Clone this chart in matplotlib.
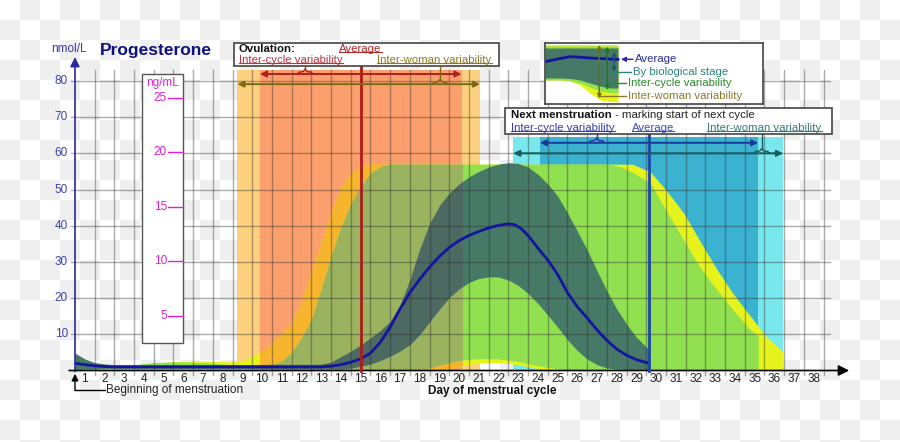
import numpy as np
import matplotlib
matplotlib.use("Agg")
import matplotlib.pyplot as plt
from matplotlib.colors import ListedColormap
from matplotlib.patches import Rectangle

plt.rcParams['font.family'] = ['Liberation Sans', 'DejaVu Sans']

# ---- data: progesterone (nmol/L) over the cycle, day n spans n-1..n ----
days = list(range(1, 39))
nmol_ticks = [10, 20, 30, 40, 50, 60, 70, 80]
ngml_ticks = [5, 10, 15, 20, 25]
ngml_to_nmol = 3.015

ovu_avg = 14.5
ovu_cycle = (9.39, 19.62)
ovu_woman = (8.24, 20.56)
men_avg = 29.14
men_cycle = (23.6, 34.68)
men_woman = (22.25, 35.94)

# average level
t_mean = [0, 0.5, 1, 1.5, 2, 12.5, 13, 13.5, 14, 14.5, 15, 15.5, 16, 16.5, 17, 17.5, 18,
          18.5, 19, 19.5, 20, 20.5, 21, 21.5, 22, 22.3, 22.6, 23, 23.5, 24, 24.5, 25, 25.5,
          26, 26.5, 27, 27.5, 28, 28.5, 29.14]
mean = [2.0, 1.6, 1.3, 1.1, 1.0, 1.0, 1.2, 1.6, 2.3, 3.2, 4.8, 7.8, 12.0, 17.0, 21.5, 25.2,
        28.6, 31.5, 34.0, 35.9, 37.3, 38.4, 39.4, 40.1, 40.5, 40.3, 39.4, 37.3, 33.8, 30.5,
        26.5, 21.5, 17.6, 14.5, 11.2, 8.3, 5.9, 4.2, 3.0, 2.0]

# variability by biological stage
t_bio = [0, 0.5, 1, 1.5, 2, 12.5, 13, 13.5, 14, 14.5, 15, 15.5, 16, 16.5, 17, 17.5, 18,
         18.5, 19, 19.5, 20, 20.5, 21, 21.5, 22, 22.5, 23, 23.5, 24, 24.5, 25, 25.5, 26,
         26.5, 27, 27.5, 28, 28.5, 29.14]
hi_bio = [4.8, 3.2, 2.2, 1.8, 1.6, 1.7, 2.3, 3.8, 5.3, 7.0, 9.0, 11.0, 13.5, 18.0, 25.0,
          33.5, 40.5, 45.5, 49.0, 51.5, 53.5, 55.0, 56.2, 57.0, 57.4, 57.2, 56.2, 54.2, 51.5,
          48.2, 43.5, 38.5, 33.3, 27.5, 22.0, 17.0, 12.8, 9.2, 5.7]
lo_bio = [0.3, 0.4, 0.5, 0.6, 0.6, 0.5, 0.5, 0.5, 0.7, 1.2, 1.8, 2.8, 4.0, 5.4, 7.2, 10.0,
          13.5, 17.0, 20.2, 22.6, 24.3, 25.4, 25.9, 25.8, 25.0, 23.5, 21.3, 18.5, 15.3, 12.0,
          8.5, 5.5, 3.2, 1.6, 0.7, 0.4, 0.3, 0.3, 0.3]

# inter-cycle variability
t_cyc = [0, 1, 2, 3, 4, 5, 6, 7, 8, 9, 10, 10.5, 11, 11.5, 12, 12.5, 13, 13.5, 14, 14.5,
         15, 15.5, 16, 17.5, 18.5, 19.5, 20.5, 21.5, 22.5, 23.5, 24.5, 25.5, 27.0, 27.7,
         28.4, 29.2, 30.0, 30.9, 31.7, 32.6, 33.4, 34.3, 34.68]
hi_cyc = [1.5, 1.5, 1.5, 1.6, 2.2, 2.4, 2.3, 2.0, 1.6, 1.4, 1.6, 2.6, 5.0, 9.0, 14.0, 22.5,
          31.5, 39.5, 46.0, 51.0, 54.5, 56.3, 57, 57, 57, 57, 57, 57, 57, 57, 57, 57, 57,
          56.3, 54.5, 51.8, 44.3, 36.0, 28.7, 22.2, 16.7, 11.2, 9.6]
lo_cyc = [0] * 23 + [0, 1.5, 2.8, 3.3, 3.2, 2.5, 1.3, 0.4, 0] + [0] * 11

# inter-woman variability
t_wom = [0, 3, 4, 5, 6, 7, 8, 8.5, 9, 9.5, 10, 10.5, 11, 11.5, 12, 12.5, 13, 13.5, 14, 14.5,
         15, 18.5, 19.5, 20.5, 21.5, 22.5, 23.5, 24.0, 28.3, 29.2, 30.0, 30.9, 31.7, 32.6,
         33.4, 34.3, 35.1, 35.94]
hi_wom = [1.0, 1.4, 2.0, 2.4, 2.6, 2.6, 2.4, 2.8, 3.8, 5.5, 7.5, 10.0, 13.0, 19.0, 27.0,
          35.5, 43.5, 50.5, 54.5, 56.5, 57, 57, 57, 57, 57, 57, 57, 57, 57, 54.9, 49.9,
          43.5, 36.0, 27.8, 21.3, 14.9, 9.3, 5.2]
lo_wom = [0] * 21 + [0, 1.2, 2.0, 2.2, 1.6, 0.5, 0] + [0] * 10

# mini chart in the key box (box pixel units)
key_x = [545, 560, 570, 580, 590, 600, 610, 618]
key_avg = [61.7, 58.5, 56.7, 57.2, 58.0, 58.5, 59.0, 59.3]
key_bio_lo = [78, 78, 78.5, 80, 83, 86, 88, 88]
key_cyc_lo = [80, 80, 80.5, 83, 87, 91, 92.5, 93]
key_wom_lo = [80, 80, 81, 85, 93, 100, 101.5, 102]

# colours
C_LORANGE = '#FDD07E'
C_ORANGE = '#FBA06C'
C_LCYAN = '#78E8EE'
C_CYAN = '#3AB2D0'
C_YELLOW = '#E6F31C'
C_GREEN = '#90E050'
C_DARK = '#467A66'
C_YELLOW_O = '#F6B52C'
C_GREEN_O = '#9BB35F'
C_DARK_O = '#4C6A62'
C_MEAN = '#1414A0'

fig = plt.figure(figsize=(9, 4.42), dpi=100)

# transparent-background checkerboard
bg = fig.add_axes([0, 0, 1, 1], zorder=0)
cells = np.indices((23, 45)).sum(axis=0) % 2
bg.imshow(cells, cmap=ListedColormap(['#ffffff', '#efefef']), extent=(0, 900, 460, 0),
          interpolation='nearest', aspect='auto')
bg.set_xlim(0, 900)
bg.set_ylim(442, 0)
bg.axis('off')

ax = fig.add_axes([0, 0, 1, 1], zorder=1)
ax.set_xlim(-75 / 19.7, 825 / 19.7)
ax.set_ylim(-71.5 / 3.62, 370.5 / 3.62)
ax.axis('off')
ax.patch.set_visible(False)

# bands for ovulation and next menstruation
ax.fill_between(ovu_woman, 0, 83, color=C_LORANGE, lw=0, zorder=1)
ax.fill_between(ovu_cycle, 0, 83, color=C_ORANGE, lw=0, zorder=1.1)
ax.fill_between(men_woman, 0, 64.6, color=C_LCYAN, lw=0, zorder=1)
ax.fill_between(men_cycle, 0, 64.6, color=C_CYAN, lw=0, zorder=1.1)


def band(t, lo, hi, c, c_over, z):
    ax.fill_between(t, lo, hi, color=c, lw=0, zorder=z)
    p = ax.fill_between(t, lo, hi, color=c_over, lw=0, zorder=z + 0.1)
    p.set_clip_path(Rectangle((ovu_cycle[0], -2), ovu_cycle[1] - ovu_cycle[0], 90,
                              transform=ax.transData))


band(t_wom, lo_wom, hi_wom, C_YELLOW, C_YELLOW_O, 2)
band(t_cyc, lo_cyc, hi_cyc, C_GREEN, C_GREEN_O, 3)
band(t_bio, lo_bio, hi_bio, C_DARK, C_DARK_O, 4)

# grid
for d in days:
    ax.plot([d, d], [-1.2, 83], color='#303030', alpha=0.4, lw=1.0, zorder=5)
for v in nmol_ticks:
    ax.plot([-0.2, 38.3], [v, v], color='#303030', alpha=0.4, lw=1.0, zorder=5)

ax.plot(t_mean, mean, color=C_MEAN, lw=2, zorder=6, solid_capstyle='butt',
        solid_joinstyle='round')

# axes
ax.annotate('', xy=(0, 86.6), xytext=(0, -0.3),
            arrowprops=dict(arrowstyle='-|>', color='#2828A0', lw=1.2, mutation_scale=14,
                            shrinkA=0, shrinkB=0), zorder=7)
ax.annotate('', xy=(39.3, 0), xytext=(-0.3, 0),
            arrowprops=dict(arrowstyle='-|>', color='black', lw=1.2, mutation_scale=16,
                            shrinkA=0, shrinkB=0), zorder=7)
for v in nmol_ticks:
    ax.text(-0.36, v, str(v), ha='right', va='center', fontsize=8.5, color='#4040B0')
ax.text(-0.33, 88.8, 'nmol/L', ha='center', va='center', fontsize=8.5, color='#3A3AA8')
ax.text(1.27, 88.3, 'Progesterone', ha='left', va='center', fontsize=12.5,
        fontweight='bold', color='#101080')
for d in days:
    ax.text(d - 0.5, -2.35, str(d), ha='center', va='center', fontsize=8.5, color='#202020')
ax.text(21.17, -5.6, 'Day of menstrual cycle', ha='center', va='center', fontsize=8.5,
        fontweight='bold', color='#111111')
ax.annotate('', xy=(0, -0.9), xytext=(0, -5.5),
            arrowprops=dict(arrowstyle='-|>', color='black', lw=1, mutation_scale=10,
                            shrinkA=0, shrinkB=0))
ax.plot([0, 1.5], [-5.5, -5.5], color='black', lw=1)
ax.text(1.57, -5.5, 'Beginning of menstruation', ha='left', va='center', fontsize=8.5,
        color='#222222')

# secondary ng/mL scale
ax.add_patch(Rectangle((3.39, 7.5), 2.11, 74.4, facecolor='white', edgecolor='#555555',
                       lw=1, zorder=8))
ax.text(4.45, 79.4, 'ng/mL', ha='center', va='center', fontsize=8.5, color='#E020D0', zorder=9)
for v in ngml_ticks:
    y = v * ngml_to_nmol
    ax.plot([4.72, 5.5], [y, y], color='#E020D0', lw=1, zorder=9)
    ax.text(4.66, y, str(v), ha='right', va='center', fontsize=8.5, color='#E020D0', zorder=9)

# markers
ax.plot([ovu_avg, ovu_avg], [0, 87.7], color='#B01A1A', lw=2, zorder=7)
ax.plot([men_avg, men_avg], [0, 65.2], color='#1848A8', lw=2, zorder=7)

fig.canvas.draw()
renderer = fig.canvas.get_renderer()
inv = ax.transData.inverted()


def label(x, y, s, color, ha='left', weight='normal', under=True):
    t = ax.text(x, y, s, ha=ha, va='center', fontsize=8.2, color=color,
                fontweight=weight, zorder=9)
    bb = t.get_window_extent(renderer)
    (x0, y0), (x1, _) = inv.transform([(bb.x0, bb.y0 + 1.5), (bb.x1, bb.y0)])
    if under:
        ax.plot([x0, x1], [y0, y0], color=color, lw=0.8, zorder=9)
    return x1


def span_arrow(x0, x1, y, color):
    ax.annotate('', xy=(x1, y), xytext=(x0, y), zorder=9,
                arrowprops=dict(arrowstyle='<|-|>', color=color, lw=1.4, mutation_scale=9,
                                shrinkA=0, shrinkB=0))


def brace(x, y, y_top, color):
    w, h = 0.4, 1.3
    ax.plot([x - w, x - w * 0.75, x - 0.1, x, x + 0.1, x + w * 0.75, x + w],
            [y, y + h * 0.4, y + h * 0.5, y + h, y + h * 0.5, y + h * 0.4, y],
            color=color, lw=1, zorder=9)
    ax.plot([x, x], [y + h, y_top], color=color, lw=1, zorder=9)


# ovulation key
ax.add_patch(Rectangle((8.07, 84.1), 13.47, 6.45, facecolor='white', edgecolor='#444444',
                       lw=1.2, zorder=8))
label(8.32, 88.9, 'Ovulation:', '#111111', weight='bold', under=False)
label(ovu_avg, 88.9, 'Average', '#B02828', ha='center')
label(8.32, 85.8, 'Inter-cycle variability', '#C03040')
label(15.35, 85.8, 'Inter-woman variability', '#8A7A22')
span_arrow(ovu_cycle[0], ovu_cycle[1], 81.9, '#B02020')
span_arrow(ovu_woman[0], ovu_woman[1], 79.1, '#7A6A10')
brace(11.68, 81.9, 84.1, '#B02020')
brace(18.53, 79.1, 84.1, '#7A6A10')

# menstruation key
ax.add_patch(Rectangle((21.83, 65.2), 16.58, 7.2, facecolor='white', edgecolor='#444444',
                       lw=1.2, zorder=8))
xe = label(22.13, 70.6, 'Next menstruation', '#111111', weight='bold', under=False)
label(xe, 70.6, ' - marking start of next cycle', '#222222', under=False)
label(22.13, 67.0, 'Inter-cycle variability', '#3A3AB0')
label(29.33, 67.0, 'Average', '#3A50B0', ha='center')
label(32.1, 67.0, 'Inter-woman variability', '#3A7878')
span_arrow(men_cycle[0], men_cycle[1], 62.9, '#1A3A9A')
span_arrow(men_woman[0], men_woman[1], 60.0, '#1A5A5A')
brace(26.48, 62.9, 65.2, '#1A3A9A')
brace(34.86, 60.0, 65.2, '#1A5A5A')

# colour key with a mini chart
kx = fig.add_axes([545 / 900, 1 - 104 / 442, 218.3 / 900, 60.7 / 442], zorder=2)
kx.set_xlim(545, 763.3)
kx.set_ylim(104, 43.3)
kx.set_xticks([])
kx.set_yticks([])
for s in kx.spines.values():
    s.set_color('#444444')
    s.set_linewidth(1.2)
kx.fill_between(key_x, 44.5, key_wom_lo, color=C_YELLOW, lw=0)
kx.fill_between(key_x, 46, key_cyc_lo, color=C_GREEN, lw=0)
kx.fill_between(key_x, 48, key_bio_lo, color=C_DARK, lw=0)
kx.plot(key_x, key_avg, color=C_MEAN, lw=2)
for x, y0, y1, c in [(599.3, 45, 98.3, '#7A6A10'), (607.3, 46.7, 90, '#1E7A1E'),
                     (614, 51.7, 71.7, '#1A5A6A')]:
    kx.annotate('', xy=(x, y1), xytext=(x, y0),
                arrowprops=dict(arrowstyle='<|-|>', color=c, lw=1, mutation_scale=6,
                                shrinkA=0, shrinkB=0))
kx.annotate('', xy=(621, 59.3), xytext=(633, 59.3),
            arrowprops=dict(arrowstyle='-|>', color='#2A2AA0', lw=1, mutation_scale=7,
                            shrinkA=0, shrinkB=0))
kx.plot([614, 631], [71.7, 71.7], color='#2A8080', lw=1)
kx.plot([607.3, 626], [82.7, 82.7], color='#2A8A2A', lw=1)
kx.plot([599.3, 626], [96, 96], color='#8A7A2A', lw=1)
kx.text(635, 59.3, 'Average', va='center', fontsize=8.2, color='#2A2AA0')
kx.text(633, 71.7, 'By biological stage', va='center', fontsize=8.2, color='#2A8080')
kx.text(628, 82.7, 'Inter-cycle variability', va='center', fontsize=8.2, color='#2A8A2A')
kx.text(628, 96, 'Inter-woman variability', va='center', fontsize=8.2, color='#8A7A2A')

fig.savefig('out.png', dpi=100)
